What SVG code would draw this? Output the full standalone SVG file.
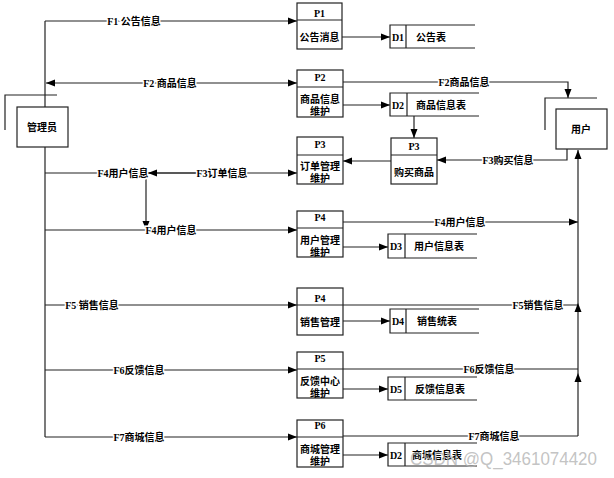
<svg xmlns="http://www.w3.org/2000/svg" width="614" height="478" viewBox="0 0 614 478">
<style>
  .box{fill:#fff;stroke:#222;stroke-width:1.2}
  .ln{fill:none;stroke:#222;stroke-width:1.2}
  .t{font-family:"Liberation Serif","Noto Sans CJK SC",serif;font-size:10px;font-weight:bold;fill:#000;text-anchor:middle;dominant-baseline:central}
  .lbl{font-family:"Liberation Serif","Noto Sans CJK SC",serif;font-size:10px;font-weight:bold;fill:#000;text-anchor:middle;dominant-baseline:central;stroke:#fff;stroke-width:3;paint-order:stroke}
  .wm{font-family:"Liberation Sans",Arial,sans-serif;font-size:18px;fill:#b4b4b4;fill-opacity:0.8}
</style>
<defs>
  <marker id="ah" markerUnits="userSpaceOnUse" markerWidth="10" markerHeight="8" refX="9" refY="4" orient="auto">
    <path d="M0,0.5 L9,4 L0,7.5 Z" fill="#000"/>
  </marker>
  <marker id="as" markerUnits="userSpaceOnUse" markerWidth="10" markerHeight="8" refX="1" refY="4" orient="auto">
    <path d="M10,0.5 L1,4 L10,7.5 Z" fill="#000"/>
  </marker>
</defs>

<g id="connectors">
  <path class="ln" d="M45,21 V437"/>
  <path class="ln" d="M45,21 H297" marker-end="url(#ah)"/>
  <path class="ln" d="M46,83 H297" marker-start="url(#as)" marker-end="url(#ah)"/>
  <path class="ln" d="M342,37 H390" marker-end="url(#ah)"/>
  <path class="ln" d="M343,105 H390" marker-end="url(#ah)"/>
  <path class="ln" d="M343,82 H568 V98" marker-end="url(#ah)"/>
  <path class="ln" d="M414,116 V138" marker-end="url(#ah)"/>
  <path class="ln" d="M567,149 V160 H437" marker-end="url(#ah)"/>
  <path class="ln" d="M391,161 H343" marker-end="url(#ah)"/>
  <path class="ln" d="M45,173 H297" marker-end="url(#ah)"/>
  <path class="ln" d="M200,173 H148" marker-end="url(#ah)"/>
  <path class="ln" d="M146,173 V230" marker-end="url(#ah)"/>
  <path class="ln" d="M45,230 H297" marker-end="url(#ah)"/>
  <path class="ln" d="M343,222 H578" marker-end="url(#ah)"/>
  <path class="ln" d="M343,247 H388" marker-end="url(#ah)"/>
  <path class="ln" d="M45,305 H297" marker-end="url(#ah)"/>
  <path class="ln" d="M297,305 H578"/>
  <path class="ln" d="M343,321 H390" marker-end="url(#ah)"/>
  <path class="ln" d="M45,370 H297" marker-end="url(#ah)"/>
  <path class="ln" d="M343,369 H578"/>
  <path class="ln" d="M343,389 H388" marker-end="url(#ah)"/>
  <path class="ln" d="M45,437 H297" marker-end="url(#ah)"/>
  <path class="ln" d="M343,436 H578"/>
  <path class="ln" d="M343,455 H388" marker-end="url(#ah)"/>
  <path class="ln" d="M578,436 V373" marker-end="url(#ah)"/>
  <path class="ln" d="M578,373 V303" marker-end="url(#ah)"/>
  <path class="ln" d="M578,303 V150" marker-end="url(#ah)"/>

  <text class="lbl" x="134" y="21">F1 公告信息</text>
  <text class="lbl" x="170" y="83">F2 商品信息</text>
  <text class="lbl" x="464" y="82">F2商品信息</text>
  <text class="lbl" x="508" y="160">F3购买信息</text>
  <text class="lbl" x="123" y="173">F4用户信息</text>
  <text class="lbl" x="222" y="173">F3订单信息</text>
  <text class="lbl" x="171" y="230">F4用户信息</text>
  <text class="lbl" x="460" y="222">F4用户信息</text>
  <text class="lbl" x="92" y="305">F5 销售信息</text>
  <text class="lbl" x="538" y="305">F5销售信息</text>
  <text class="lbl" x="139" y="370">F6反馈信息</text>
  <text class="lbl" x="489" y="369">F6反馈信息</text>
  <text class="lbl" x="139" y="437">F7商城信息</text>
  <text class="lbl" x="494" y="436">F7商城信息</text>
</g>

<g id="admin">
  <path class="ln" d="M5,130 V95 H57"/>
  <rect class="box" x="17" y="107" width="51" height="40"/>
  <text class="t" x="42" y="127">管理员</text>
</g>

<g id="user">
  <path class="ln" d="M545,130 V98 H597"/>
  <rect class="box" x="556" y="109" width="51" height="40"/>
  <text class="t" x="581" y="129">用户</text>
</g>

<g id="P1">
  <rect class="box" x="297" y="3" width="45" height="46"/>
  <path class="ln" d="M297,20 H342"/>
  <text class="t" x="319.5" y="13">P1</text>
  <text class="t" x="319.5" y="37">公告消息</text>
</g>
<g id="P2">
  <rect class="box" x="297" y="70" width="46" height="47"/>
  <path class="ln" d="M297,87 H343"/>
  <text class="t" x="320" y="77">P2</text>
  <text class="t" x="320" y="99">商品信息</text>
  <text class="t" x="320" y="111">维护</text>
</g>
<g id="P3-order">
  <rect class="box" x="297" y="137" width="46" height="47"/>
  <path class="ln" d="M297,155 H343"/>
  <text class="t" x="320" y="144">P3</text>
  <text class="t" x="320" y="166">订单管理</text>
  <text class="t" x="320" y="178">维护</text>
</g>
<g id="P3-buy">
  <rect class="box" x="391" y="138" width="46" height="46"/>
  <path class="ln" d="M391,155 H437"/>
  <text class="t" x="414" y="146">P3</text>
  <text class="t" x="414" y="172">购买商品</text>
</g>
<g id="P4-user">
  <rect class="box" x="297" y="211" width="46" height="46"/>
  <path class="ln" d="M297,228 H343"/>
  <text class="t" x="320" y="217">P4</text>
  <text class="t" x="320" y="240">用户管理</text>
  <text class="t" x="320" y="252">维护</text>
</g>
<g id="P4-sales">
  <rect class="box" x="297" y="288" width="46" height="47"/>
  <path class="ln" d="M297,305 H343"/>
  <text class="t" x="320" y="298">P4</text>
  <text class="t" x="320" y="322">销售管理</text>
</g>
<g id="P5">
  <rect class="box" x="297" y="352" width="46" height="46"/>
  <path class="ln" d="M297,369 H343"/>
  <text class="t" x="320" y="358">P5</text>
  <text class="t" x="320" y="381">反馈中心</text>
  <text class="t" x="320" y="393">维护</text>
</g>
<g id="P6">
  <rect class="box" x="297" y="420" width="46" height="47"/>
  <path class="ln" d="M297,437 H343"/>
  <text class="t" x="320" y="425">P6</text>
  <text class="t" x="320" y="449">商城管理</text>
  <text class="t" x="320" y="461">维护</text>
</g>

<g id="D1">
  <path class="ln" d="M475,25 H390 V48 H475 M406,25 V48"/>
  <text class="t" x="398" y="37">D1</text>
  <text class="t" x="431" y="37">公告表</text>
</g>
<g id="D2">
  <path class="ln" d="M479,93 H390 V116 H479 M407,93 V116"/>
  <text class="t" x="398" y="105">D2</text>
  <text class="t" x="441" y="105">商品信息表</text>
</g>
<g id="D3">
  <path class="ln" d="M477,234 H388 V258 H477 M405,234 V258"/>
  <text class="t" x="396" y="246">D3</text>
  <text class="t" x="439" y="246">用户信息表</text>
</g>
<g id="D4">
  <path class="ln" d="M479,309 H390 V333 H479 M406,309 V333"/>
  <text class="t" x="398" y="321">D4</text>
  <text class="t" x="437" y="321">销售统表</text>
</g>
<g id="D5">
  <path class="ln" d="M477,377 H388 V400 H477 M405,377 V400"/>
  <text class="t" x="396" y="389">D5</text>
  <text class="t" x="440" y="389">反馈信息表</text>
</g>
<g id="D2-mall">
  <path class="ln" d="M477,443 H388 V466 H477 M405,443 V466"/>
  <text class="t" x="396" y="455">D2</text>
  <text class="t" x="437" y="455">商城信息表</text>
</g>

<text class="wm" x="597" y="465" text-anchor="end" textLength="187" lengthAdjust="spacingAndGlyphs">CSDN @Q_3461074420</text>
</svg>
